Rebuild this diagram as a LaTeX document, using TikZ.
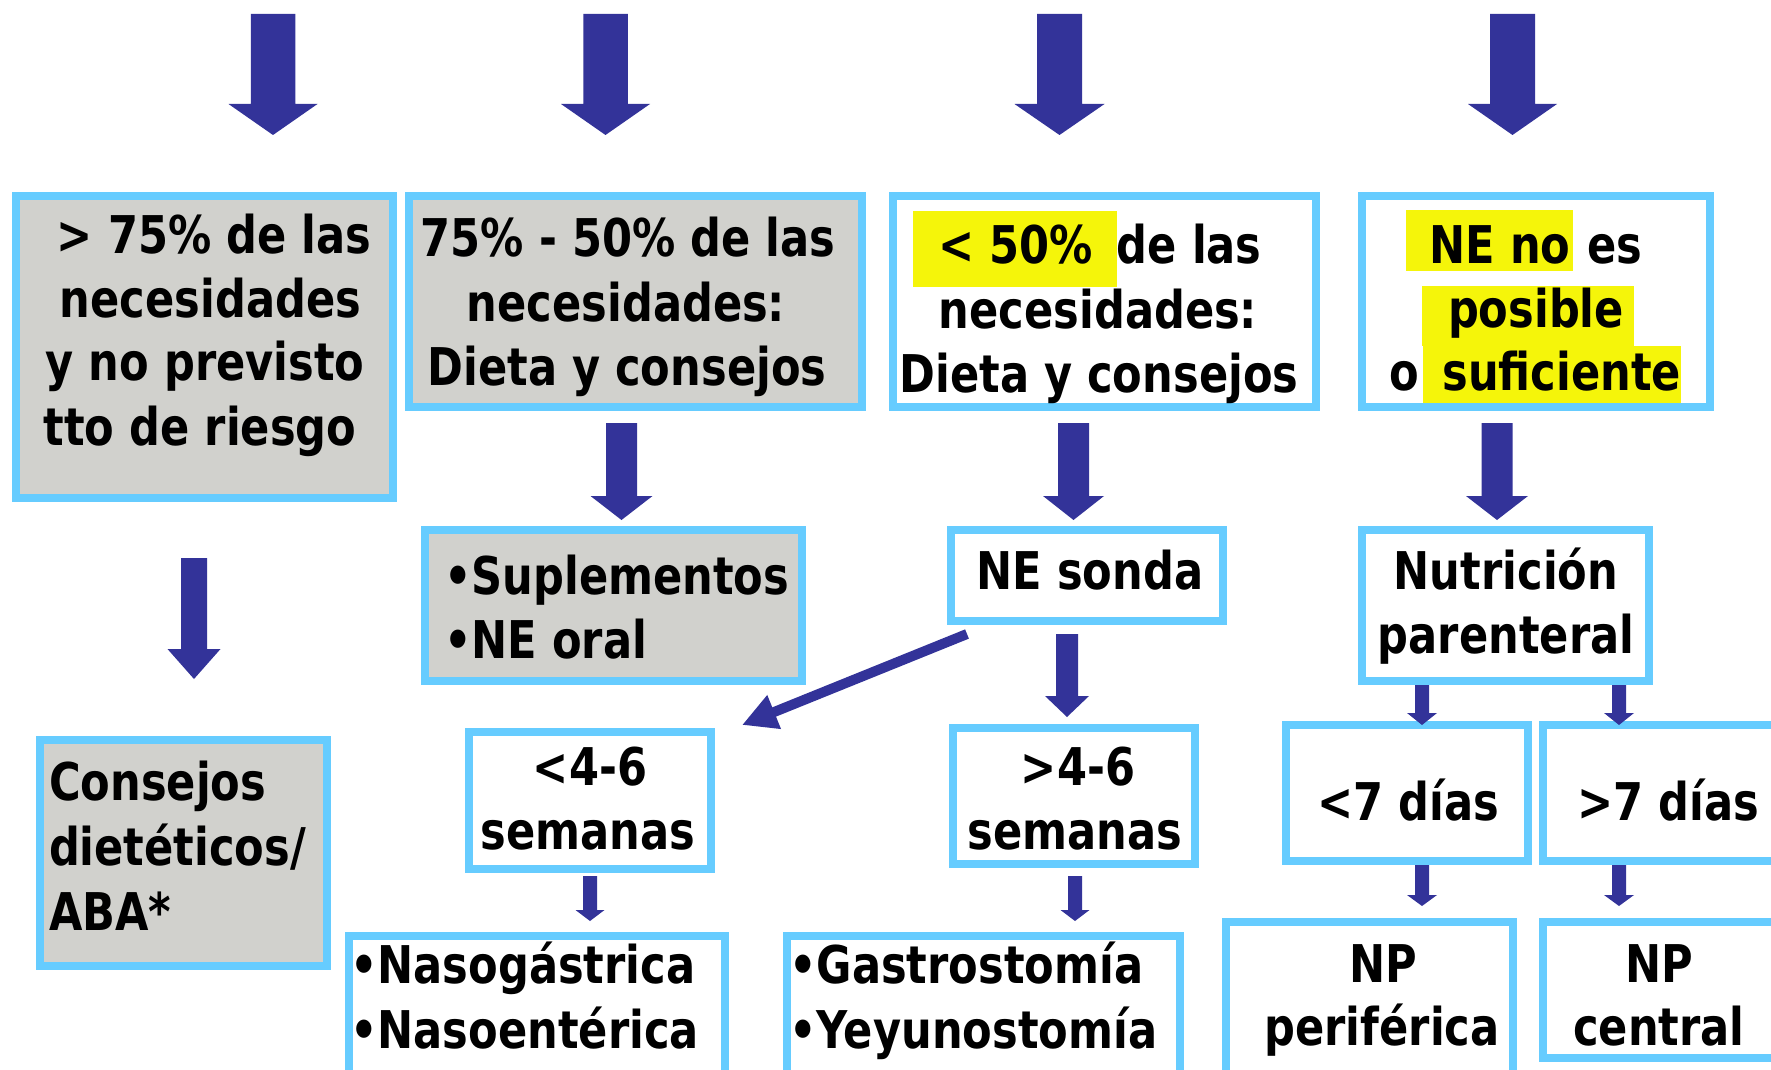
\documentclass[tikz,border=0pt]{standalone}
\usepackage{fontspec}
\setmainfont{DejaVu Sans}[FakeStretch=0.83]
\usetikzlibrary{fit,arrows.meta}
\definecolor{bordc}{HTML}{66CCFF}
\definecolor{arrc}{HTML}{333399}
\definecolor{grayf}{HTML}{D1D1CD}
\definecolor{hly}{HTML}{F5F50A}
\newcommand\hlt[5]{{\setlength{\fboxsep}{0pt}\colorbox{hly}{\rule[-#3]{0pt}{\dimexpr #2+#3\relax}\hspace*{#4}#1\hspace*{#5}}}}
\newcommand\downarr[6]{\fill[barrow] ({#1-#5},#2) -- ({#1+#5},#2) -- ({#1+#5},#3) -- ({#1+#6},#3) -- (#1,#4) -- ({#1-#6},#3) -- ({#1-#5},#3) -- cycle;}
\tikzset{
 box/.style={draw=bordc, line width=6pt, inner sep=0pt, outer sep=0pt},
 grayb/.style={box, fill=grayf},
 whiteb/.style={box, fill=white},
 txt/.style={inner sep=0pt, outer sep=0pt, anchor=base, font=\bfseries\fontsize{39}{48.75}\selectfont, text=black},
 txtl/.style={txt, anchor=base west},
 barrow/.style={fill=arrc},
}
\begin{document}
\begin{tikzpicture}[x=0.75pt,y=-0.75pt]
\path[use as bounding box] (0,0) rectangle (1771,1070);
\clip (0,0) rectangle (1771,1070);
\fill[white] (0,0) rectangle (1771,1070);
% boxes
\node[grayb, fit={(15.5,196) (393,498)}] (b1) {};
\node[grayb, fit={(409,196) (862,407)}] (b2) {};
\node[whiteb, fit={(893,196) (1316,407)}] (b3) {};
\node[whiteb, fit={(1362,196) (1710,407)}] (b4) {};
\node[grayb, fit={(40,740) (327,966)}] (cons) {};
\node[grayb, fit={(425,530) (802,681)}] (supl) {};
\node[whiteb, fit={(951,530) (1223,621)}] (sonda) {};
\node[whiteb, fit={(1362,530) (1649,681)}] (npar) {};
\node[whiteb, fit={(469,732) (711,869)}] (lt46) {};
\node[whiteb, fit={(953,728) (1195,864)}] (gt46) {};
\node[whiteb, fit={(1286,725) (1528,861)}] (lt7) {};
\node[whiteb, fit={(1543,725) (1800,861)}] (gt7) {};
\node[whiteb, fit={(349,936) (725,1100)}] (naso) {};
\node[whiteb, fit={(787,936) (1180,1100)}] (gastro) {};
\node[whiteb, fit={(1226,922) (1513,1100)}] (npper) {};
\node[whiteb, fit={(1543,922) (1800,1058)}] (npcen) {};
% block arrows
\downarr{273}{14}{104}{135}{22.25}{44.5}
\downarr{605.5}{14}{104}{135}{22.25}{44.5}
\downarr{1059.5}{14}{104}{135}{22.5}{45}
\downarr{1512.5}{14}{104}{135}{22.5}{44.5}
\downarr{194}{558}{649}{679}{13}{26.5}
\downarr{621.5}{423}{496}{520}{15.5}{31}
\downarr{1073.5}{423}{496}{520}{15.5}{30.5}
\downarr{1497}{423}{496}{520}{15.5}{31}
\downarr{1067}{634}{696}{717}{11}{22}
\downarr{1422}{685}{713}{725}{7}{15}
\downarr{1619}{685}{713}{725}{7}{15}
\downarr{1422}{865}{895}{906}{7}{15}
\downarr{1619}{865}{895}{906}{7}{15}
\downarr{590}{876}{910}{921}{7}{14.5}
\downarr{1075}{876}{910}{921}{7}{14.5}
\coordinate (dstart) at (967,634);
\coordinate (dend) at (742,725);
\draw[arrc, line width=7.5pt, -{Triangle[length=26pt,width=25.5pt]}] (dstart) -- (dend);
% texts
\node[txt] (t1a) at (214,253) {> 75\% de las};
\node[txt] (t1b) at (210.5,317) {necesidades};
\node[txt] (t1c) at (205,380) {y no previsto};
\node[txt] (t1d) at (200,445) {tto de riesgo};
\node[txt] (t2a) at (628,257) {75\% - 50\% de las};
\node[txt] (t2b) at (626,321) {necesidades:};
\node[txt] (t2c) at (627,385) {Dieta y consejos};
\node[txt] (t3a) at (1087.5,263) {\hlt{< 50\%}{39pt}{18pt}{18.75pt}{18pt}de las};
\node[txt] (t3b) at (1098,328) {necesidades:};
\node[txt] (t3c) at (1099,392) {Dieta y consejos};
\node[txt] (t4a) at (1524,263) {\hlt{NE no}{39.75pt}{6pt}{18pt}{1.5pt} es};
\node[txt] (t4b) at (1528,327) {\hlt{posible}{30.75pt}{14.25pt}{19.5pt}{7.5pt}};
\node[txt] (t4c) at (1535.5,390) {o\hspace*{3pt}\hlt{suficiente}{33pt}{9.75pt}{14.25pt}{0pt}};
\node[txtl] (tc1) at (49,800) {Consejos};
\node[txtl] (tc2) at (49,865) {dietéticos/};
\node[txtl] (tc3) at (49,930) {ABA*};
\node[txtl] (ts1) at (444,594.5) {•Suplementos};
\node[txtl] (ts2) at (444,658) {•NE oral};
\node[txt] (tn) at (1090,589) {NE sonda};
\node[txt] (tp1) at (1506,589) {Nutrición};
\node[txt] (tp2) at (1506,653) {parenteral};
\node[txt] (tl1) at (590,785) {<4-6};
\node[txt] (tl2) at (588,849) {semanas};
\node[txt] (tg1) at (1078,785) {>4-6};
\node[txt] (tg2) at (1075,849) {semanas};
\node[txt] (td1) at (1408,820) {<7 días};
\node[txt] (td2) at (1668,820) {>7 días};
\node[txtl] (tna1) at (350,983) {•Nasogástrica};
\node[txtl] (tna2) at (350,1048) {•Nasoentérica};
\node[txtl] (tga1) at (789,983) {•Gastrostomía};
\node[txtl] (tga2) at (789,1048) {•Yeyunostomía};
\node[txt] (tpp1) at (1383,982) {NP};
\node[txt] (tpp2) at (1382,1045) {periférica};
\node[txt] (tpc1) at (1659,982) {NP};
\node[txt] (tpc2) at (1659,1045) {central};
\end{tikzpicture}
\end{document}
